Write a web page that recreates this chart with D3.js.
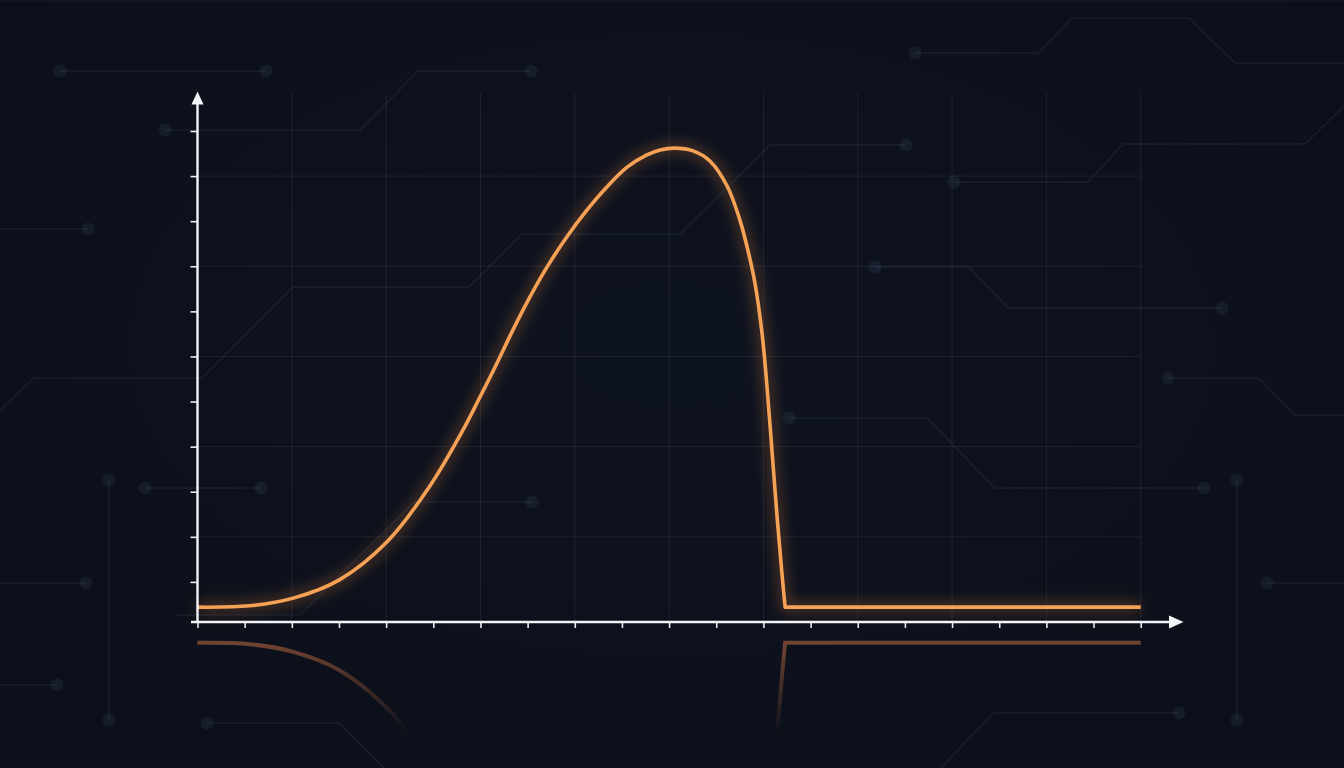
<!DOCTYPE html>
<meta charset="utf-8">
<style>
  html, body { margin: 0; padding: 0; background: #0c111b; overflow: hidden; }
  svg { display: block; }
</style>
<body>
<script src="https://d3js.org/d3.v7.min.js"></script>
<script>
  // curve values (x in tick units, y in tick units)
  const curveX = [0, 1.11, 2.03, 3.0, 4.02, 4.91, 5.63, 5.99, 6.35, 6.69, 7.05, 7.41, 7.83, 8.26, 8.68, 9.11, 9.53, 9.81, 10.12, 10.51, 10.87, 11.23, 11.5, 11.67, 11.82, 11.97, 12.07, 12.18, 12.29, 12.39, 12.46, 20];
  const curveY = [0.44, 0.47, 0.64, 1.04, 1.89, 3.1, 4.37, 5.1, 5.85, 6.59, 7.32, 7.98, 8.65, 9.25, 9.76, 10.2, 10.47, 10.58, 10.62, 10.56, 10.33, 9.78, 9.03, 8.36, 7.63, 6.52, 5.41, 3.93, 2.44, 1.22, 0.44, 0.44];
  const xTicks = d3.range(0, 21);
  const yTicks = d3.range(1, 12);
  const xGrid = [2, 4, 6, 8, 10, 12, 14, 16, 18, 20];
  const yGrid = [2, 4, 6, 8, 10];

  // background circuit traces (decoration, pixel space), dots at ends flagged
  const traces = [
    { pts: [[60,71],[266,71]], dots: [0,1] },
    { pts: [[165,130],[360,130],[418,71],[531,71]], dots: [0,3] },
    { pts: [[0,229],[88,229]], dots: [1] },
    { pts: [[0,410],[34,378],[202,378],[293,287],[469,287],[522,234],[680,234],[770,145],[906,145]], dots: [8] },
    { pts: [[915,53],[1038,53],[1072,18],[1189,18],[1235,63],[1344,63]], dots: [0] },
    { pts: [[954,182],[1088,182],[1123,144],[1305,144],[1344,106]], dots: [0] },
    { pts: [[875,267],[969,267],[1008,308],[1222,308]], dots: [0,3] },
    { pts: [[1168,378],[1259,378],[1295,415],[1344,415]], dots: [0] },
    { pts: [[789,418],[927,418],[995,488],[1204,488]], dots: [0,3] },
    { pts: [[1237,480],[1237,720]], dots: [0,1] },
    { pts: [[109,480],[109,720]], dots: [0,1] },
    { pts: [[145,488],[261,488]], dots: [0,1] },
    { pts: [[0,583],[86,583]], dots: [1] },
    { pts: [[0,685],[57,685]], dots: [1] },
    { pts: [[207,723],[339,723],[384,768]], dots: [0] },
    { pts: [[175,615],[300,615],[414,502],[532,502]], dots: [3] },
    { pts: [[1267,583],[1344,583]], dots: [0] },
    { pts: [[1179,713],[993,713],[941,768]], dots: [0] }
  ];

  const W = 1344, H = 768;
  const axisY = 622, axisX = 197.5, mirrorY = 625;

  const svg = d3.select("body").append("svg")
    .attr("width", W).attr("height", H);

  const defs = svg.append("defs");

  const bgGrad = defs.append("radialGradient").attr("id", "bg")
    .attr("cx", "50%").attr("cy", "45%").attr("r", "75%");
  bgGrad.append("stop").attr("offset", "0%").attr("stop-color", "#0e1320");
  bgGrad.append("stop").attr("offset", "100%").attr("stop-color", "#0b0f19");

  const glow = defs.append("filter").attr("id", "glow")
    .attr("x", "-20%").attr("y", "-20%").attr("width", "140%").attr("height", "140%");
  glow.append("feGaussianBlur").attr("stdDeviation", 7);

  const fade = defs.append("linearGradient").attr("id", "fade")
    .attr("gradientUnits", "userSpaceOnUse")
    .attr("x1", 0).attr("y1", mirrorY).attr("x2", 0).attr("y2", 735);
  fade.append("stop").attr("offset", "0%").attr("stop-color", "#fff").attr("stop-opacity", 0.55);
  fade.append("stop").attr("offset", "100%").attr("stop-color", "#fff").attr("stop-opacity", 0);
  defs.append("mask").attr("id", "reflMask")
    .attr("maskUnits", "userSpaceOnUse")
    .attr("x", 0).attr("y", 0).attr("width", W).attr("height", H)
    .append("rect").attr("x", 0).attr("y", mirrorY).attr("width", W).attr("height", H - mirrorY)
    .attr("fill", "url(#fade)");

  svg.append("rect").attr("width", W).attr("height", H).attr("fill", "url(#bg)");
  svg.append("line").attr("x1", 0).attr("x2", W).attr("y1", 1).attr("y2", 1)
    .attr("stroke", "rgba(255,255,255,0.05)");

  // circuit traces
  const gTr = svg.append("g");
  gTr.selectAll("polyline").data(traces).join("polyline")
    .attr("points", d => d.pts.map(p => p.join(",")).join(" "))
    .attr("fill", "none")
    .attr("stroke", "rgba(130,150,185,0.11)")
    .attr("stroke-width", 1.6);
  gTr.selectAll("circle").data(traces.flatMap(t => t.dots.map(i => t.pts[i]))).join("circle")
    .attr("cx", d => d[0]).attr("cy", d => d[1]).attr("r", 6.5)
    .attr("fill", "rgba(130,150,185,0.09)");

  const x = d3.scaleLinear().domain([0, 20]).range([197.5, 1140.7]);
  const y = d3.scaleLinear().domain([0, 11]).range([627, 131]);

  // grid
  const gGrid = svg.append("g").attr("stroke", "rgba(255,255,255,0.07)").attr("stroke-width", 1);
  gGrid.selectAll("line.v").data(xGrid).join("line").attr("class", "v")
    .attr("x1", d => x(d)).attr("x2", d => x(d))
    .attr("y1", 93).attr("y2", axisY);
  gGrid.selectAll("line.h").data(yGrid).join("line").attr("class", "h")
    .attr("x1", axisX).attr("x2", x(20))
    .attr("y1", d => y(d)).attr("y2", d => y(d));

  const pts = curveX.map((v, i) => [v, curveY[i]]);
  // smooth pulse, then straight flat tail
  const pulse = pts.slice(0, -1), tail = pts[pts.length - 1];
  const line = d3.line().x(d => x(d[0])).y(d => y(d[1])).curve(d3.curveCatmullRom.alpha(0.5));
  const pathD = line(pulse) + `L${x(tail[0])},${y(tail[1])}`;

  // reflection
  svg.append("g").attr("mask", "url(#reflMask)")
    .append("path")
    .attr("transform", `translate(0,${2 * mirrorY}) scale(1,-1)`)
    .attr("d", pathD)
    .attr("fill", "none")
    .attr("stroke", "#e8804c")
    .attr("stroke-width", 4);

  // glow + curve
  svg.append("path").attr("d", pathD)
    .attr("fill", "none").attr("stroke", "#f08a3c")
    .attr("stroke-width", 10).attr("opacity", 0.3)
    .attr("filter", "url(#glow)");
  svg.append("path").attr("d", pathD)
    .attr("fill", "none").attr("stroke", "#f6a256")
    .attr("stroke-width", 3.6)
    .attr("stroke-linejoin", "round");

  // axes
  const gx = svg.append("g").attr("transform", `translate(0,${axisY})`)
    .call(d3.axisBottom(x).tickValues(xTicks).tickSize(6).tickFormat(""));
  gx.select(".domain").remove();
  gx.selectAll(".tick line").attr("stroke", "#e8ecf2").attr("stroke-width", 1.6);

  const gy = svg.append("g").attr("transform", `translate(${axisX},0)`)
    .call(d3.axisLeft(y).tickValues(yTicks).tickSize(7).tickFormat(""));
  gy.select(".domain").remove();
  gy.selectAll(".tick line").attr("stroke", "#e8ecf2").attr("stroke-width", 1.6);

  const axisCol = "#f2f4f8";
  svg.append("line").attr("x1", 191).attr("x2", 1172).attr("y1", axisY).attr("y2", axisY)
    .attr("stroke", axisCol).attr("stroke-width", 2.4);
  svg.append("path").attr("d", `M1183.5,${axisY} L1169,${axisY - 6.5} L1169,${axisY + 6.5} Z`)
    .attr("fill", axisCol);
  svg.append("line").attr("x1", axisX).attr("x2", axisX).attr("y1", axisY + 1).attr("y2", 102)
    .attr("stroke", axisCol).attr("stroke-width", 2.4);
  svg.append("path").attr("d", `M${axisX},91.5 L${axisX - 6},104.5 L${axisX + 6},104.5 Z`)
    .attr("fill", axisCol);
</script>
</body>
